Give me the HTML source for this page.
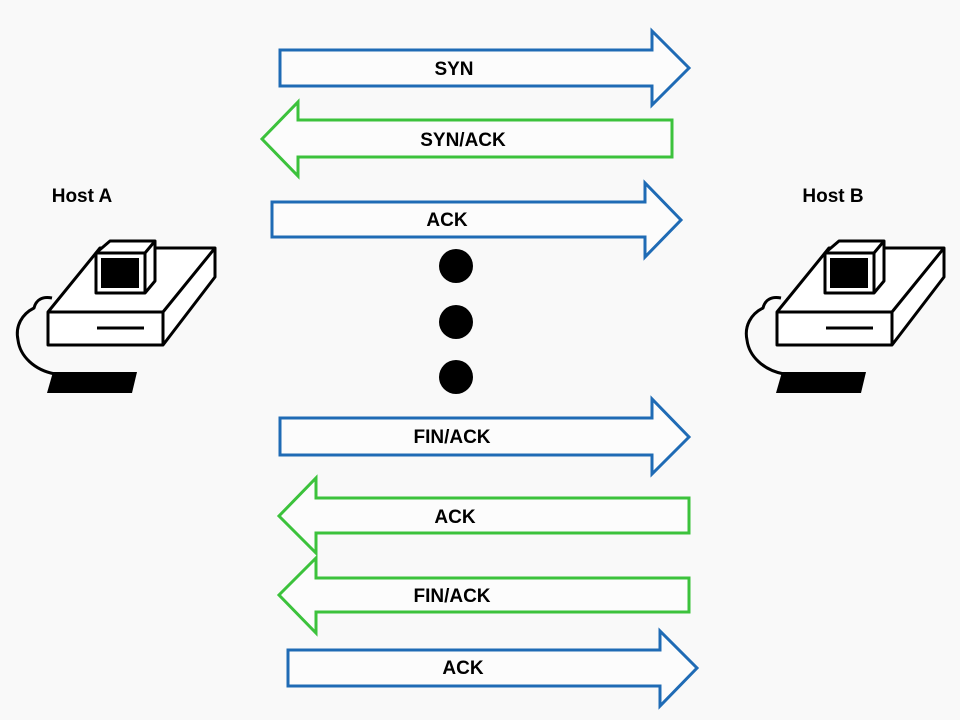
<!DOCTYPE html>
<html><head><meta charset="utf-8"><style>
html,body{margin:0;padding:0;background:#f9f9f9;}
svg{display:block}
text{font-family:"Liberation Sans",sans-serif;font-weight:bold;font-size:19px;fill:#000;text-anchor:middle}
</style></head><body>
<svg width="960" height="720" viewBox="0 0 960 720">
<rect width="960" height="720" fill="#f9f9f9"/>
<defs>
<g id="pc" fill="none" stroke="#000" stroke-width="3" stroke-linejoin="round">
  <path d="M48,312 L100,248 L215,248 L215,277 L163,345 L48,345 Z" fill="#fff"/>
  <path d="M48,312 L163,312 L215,248 M163,312 L163,345"/>
  <path d="M96,253 L110,241 L155,241 L155,281 L145,293 L96,293 Z" fill="#fff"/>
  <path d="M96,253 L145,253 L155,241 M145,253 L145,293"/>
  <rect x="101" y="258" width="38" height="30" fill="#000" stroke="none"/>
  <path d="M97,328 L144,328"/>
  <path d="M52,298 C42,296 36,300 34,308 C22,314 15,326 18,340 C20,356 34,370 55,374" stroke-width="3"/>
  <path d="M47,393 L53,372 L137,372 L132,393 Z" fill="#000" stroke="none"/>
</g>
</defs>
<g fill="#fcfcfc" stroke-width="3" stroke-linejoin="miter">
<path d="M280,50 L652,50 L652,31 L689,68 L652,105 L652,86 L280,86 Z" stroke="#1f6bb5"/>
<path d="M672,120 L298,120 L298,102 L262,139 L298,176 L298,157 L672,157 Z" stroke="#3cc23c"/>
<path d="M272,202 L645,202 L645,183 L681,220 L645,257 L645,237 L272,237 Z" stroke="#1f6bb5"/>
<path d="M280,418 L652,418 L652,399 L689,437 L652,474 L652,455 L280,455 Z" stroke="#1f6bb5"/>
<path d="M689,498 L316,498 L316,478 L279,516 L316,553 L316,533 L689,533 Z" stroke="#3cc23c"/>
<path d="M689,578 L316,578 L316,558 L279,595 L316,633 L316,612 L689,612 Z" stroke="#3cc23c"/>
<path d="M288,650 L660,650 L660,631 L697,668 L660,706 L660,686 L288,686 Z" stroke="#1f6bb5"/>
</g>
<text x="454" y="75">SYN</text>
<text x="463" y="146">SYN/ACK</text>
<text x="447" y="226">ACK</text>
<text x="452" y="443">FIN/ACK</text>
<text x="455" y="523">ACK</text>
<text x="452" y="602">FIN/ACK</text>
<text x="463" y="674">ACK</text>
<circle cx="456" cy="266" r="17" fill="#000"/>
<circle cx="456" cy="322" r="17" fill="#000"/>
<circle cx="456" cy="377" r="17" fill="#000"/>
<text x="82" y="202">Host A</text>
<text x="833" y="202">Host B</text>
<use href="#pc"/>
<use href="#pc" transform="translate(729,0)"/>
</svg>
</body></html>
